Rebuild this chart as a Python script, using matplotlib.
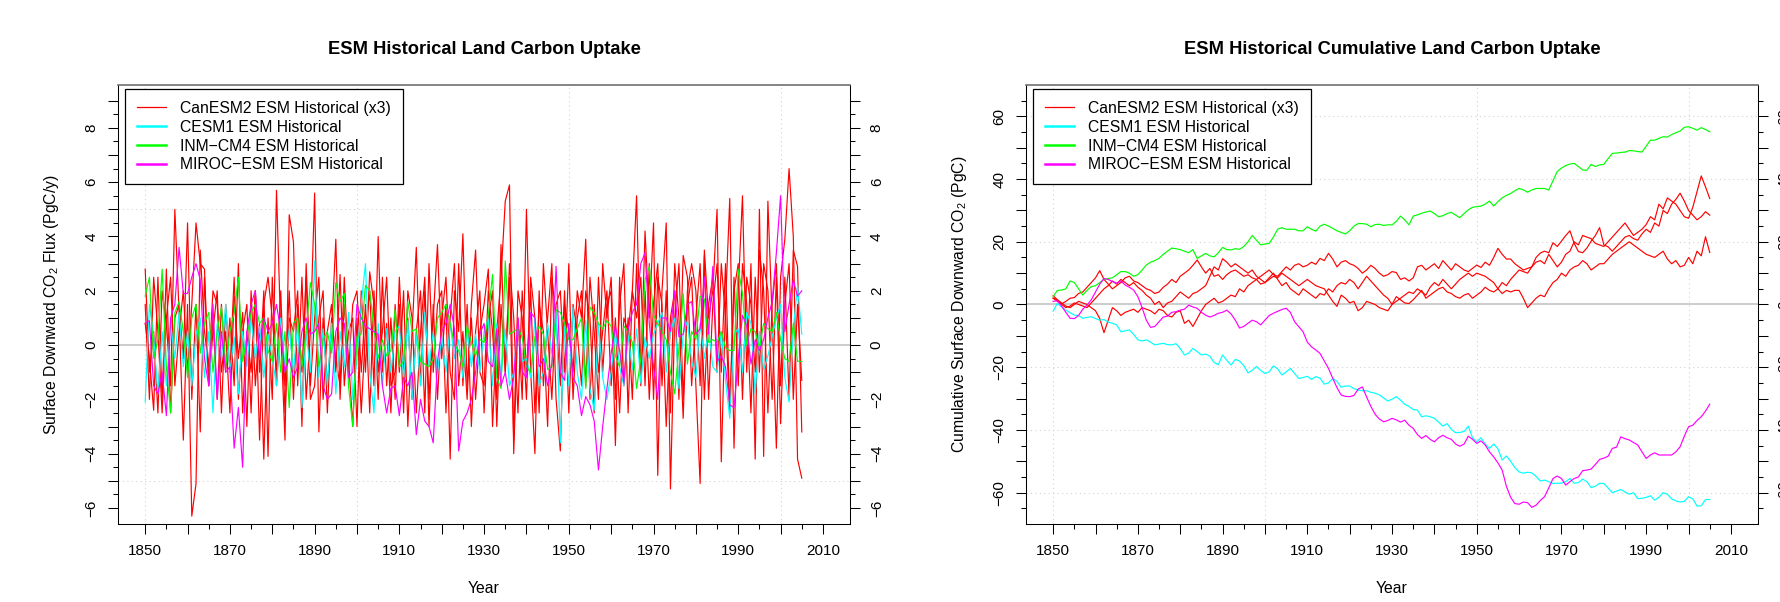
import numpy as np
import matplotlib
matplotlib.use('Agg')
import matplotlib.pyplot as plt
from matplotlib.lines import Line2D

plt.rcParams['font.family'] = ['Liberation Sans', 'DejaVu Sans']
plt.rcParams['mathtext.fontset'] = 'custom'
plt.rcParams['mathtext.rm'] = 'Liberation Sans'
plt.rcParams['mathtext.it'] = 'Liberation Sans:italic'

years = np.arange(1850, 2006)

# ---- annual land carbon flux (PgC/y), left panel ----
can_flux_1 = [2.8, -1.0, 0.5, -2.5, 2.0, 0.8, -1.5, 5.0, 1.2, -3.5,
              1.5, -6.3, -5.1, 3.5, 0.5, -0.8, 2.0, 1.5, -1.0, 0.5,
              -2.5, 1.8, -0.5, 1.2, -3.0, 2.0, -1.5, 0.8, -4.2, 1.0,
              -2.0, 5.7, 0.5, -3.5, 4.8, 3.8, -1.5, 2.5, -2.0, 0.5,
              5.6, -3.2, 1.0, -1.5, 0.5, 3.9, -2.0, 1.5, -0.5, -3.0,
              1.0, -2.5, 0.5, 2.0, -1.5, 4.0, -1.0, 0.8, -2.5, 1.5,
              -1.0, 2.0, -3.0, 0.5, 3.6, -1.5, 2.0, -2.0, 1.0, 3.7,
              -0.5, 1.5, -4.2, 2.0, 0.5, 4.1, -1.5, 1.0, -2.0, 0.5,
              1.5, 2.8, -3.0, 0.5, 2.5, 5.3, 5.9, -4.0, 1.0, -2.0,
              5.0, -1.0, -4.0, 2.0, -1.5, 1.0, 3.0, -2.0, -3.9, 1.5,
              0.5, -1.0, 2.0, 1.0, 3.9, -2.0, 1.5, -1.0, 0.5, 2.0,
              -1.5, 1.0, -2.5, 1.0, 0.5, 2.0, 5.5, -1.0, 4.2, 1.0,
              4.5, -4.8, 2.0, 4.5, -5.3, 1.0, 3.0, -2.0, 1.5, 2.5,
              -1.5, -5.1, 3.5, 1.0, 2.0, 5.0, -4.3, 1.5, 5.4, -3.8,
              2.0, 5.5, -1.0, 3.0, -4.2, 5.0, -4.1, 5.3, 1.0, -3.8,
              2.5, 3.9, 6.5, 4.0, -4.2, -4.9]
can_flux_2 = [1.5, -2.0, 2.5, 0.5, -2.5, 1.0, 2.5, -1.5, 0.5, 2.0,
              -1.0, 1.5, 4.5, 3.0, 2.8, -1.5, 1.0, -2.0, 1.5, -1.0,
              1.0, -1.5, 3.0, -2.5, 0.5, -1.0, 2.0, -3.5, 1.5, 2.5,
              1.0, -1.0, 2.0, -2.5, 1.0, 0.5, 2.0, -3.0, 3.0, -1.5,
              1.0, 2.5, -2.0, 0.5, 1.5, -1.0, 2.6, -1.5, 0.5, 1.0,
              -3.0, 2.0, -1.0, 2.7, 1.5, -2.0, 2.5, -1.5, 1.0, -2.0,
              2.5, -1.0, 1.0, -2.0, 0.5, 2.0, -2.5, 3.0, -1.0, 1.5,
              2.0, -2.5, 1.0, 3.0, -1.5, 0.5, -2.0, 1.5, 3.5, -1.0,
              -1.5, 2.0, 0.5, -2.0, 3.7, -1.0, 2.5, -3.5, 2.0, 1.0,
              -2.0, 2.5, 1.0, -2.5, 3.0, 0.5, -2.0, 1.5, 2.0, -1.0,
              3.0, -2.0, 1.0, 2.0, -1.5, 2.5, 0.5, -2.0, 3.0, 1.0,
              2.5, -2.0, 1.5, 3.0, -2.5, 2.0, 1.0, 2.5, -1.5, 3.0,
              -2.0, 2.5, 1.5, -3.0, 1.0, 2.0, -2.0, 3.3, 2.5, -1.5,
              1.0, 3.0, -2.0, 1.5, 2.5, -1.0, 3.0, 1.0, -2.5, 2.0,
              3.0, -2.0, 2.5, 1.5, -1.0, 3.5, 2.0, -2.5, 1.5, 3.0,
              -1.5, 2.5, -2.0, 3.5, 2.9, -3.2]
can_flux_3 = [0.8, -0.5, -2.4, 2.5, -2.0, 2.8, -2.5, 1.0, 1.5, -0.5,
              4.5, -2.0, 1.5, -3.2, 2.5, -1.5, 0.5, 2.0, -2.5, 1.5,
              -1.0, 2.5, -2.0, 0.5, 1.5, -2.5, 2.0, -1.0, 2.0, -4.1,
              2.5, -1.5, 1.0, -1.5, 2.0, -2.0, 1.5, -1.0, 2.5, -2.0,
              -1.5, 1.0, 2.0, -2.5, 1.0, -0.5, -1.5, 2.5, -1.0, 1.5,
              2.0, -1.0, 1.5, -2.5, 2.0, -1.0, 0.5, 2.5, -1.5, -1.0,
              1.5, -2.5, 2.0, 1.0, -2.5, 0.5, 2.5, -3.0, 1.5, -2.0,
              1.0, 2.5, -1.0, -2.0, 3.0, -1.5, 1.5, -3.0, 0.5, 2.0,
              -2.5, 1.0, 2.0, -3.0, 1.5, -1.0, 3.0, 1.0, -2.5, 2.0,
              -1.0, 2.0, -2.5, 1.5, 0.5, -3.0, 2.5, 1.0, -1.5, 2.0,
              -2.5, 1.5, 0.5, -1.5, 2.0, 1.0, -2.5, 2.5, -1.0, 1.5,
              2.0, -3.7, 2.5, -1.5, 1.0, -2.0, 3.0, -1.5, 2.0, -2.0,
              1.5, 3.0, -1.5, 2.0, -2.5, 3.0, 1.0, -2.7, 2.0, 3.0,
              2.0, -1.5, 3.3, -2.0, 1.5, 3.0, -1.0, 3.0, -2.5, 2.5,
              -1.5, 3.0, 1.5, -2.5, 2.5, -1.0, 3.0, 2.0, -2.0, 2.5,
              -2.9, 1.5, 3.0, -2.0, 1.5, -1.3]
cesm_flux = [-2.1, 1.5, 0.3, -1.8, 0.5, -1.5, 0.8, -0.5, 1.2, -0.8,
             0.5, -1.5, 0.4, 1.0, -1.2, 0.5, -2.5, 0.8, -0.5, 1.5,
             -1.0, 0.3, -1.8, 0.5, -0.8, 1.0, -0.5, 0.7, -1.2, 0.4,
             -0.5, -1.5, 1.0, -0.8, 0.6, -1.0, 0.8, -2.3, 0.5, -1.0,
             3.1, -1.2, 0.6, -1.5, 0.8, -1.8, 0.5, -0.8, 1.2, -2.0,
             -0.5, 1.5, 3.0, -1.0, -2.5, 0.8, -1.5, 0.6, -1.0, 0.5,
             0.7, -1.2, 0.9, -2.0, 0.4, -1.5, 1.2, -0.8, 0.5, -1.0,
             0.3, -1.0, 0.8, -0.5, 0.2, -1.2, 0.6, -0.8, 0.4, -1.0,
             0.5, 1.0, -1.5, 0.8, -1.2, 0.6, -1.5, -1.0, 0.8, -0.6,
             -0.5, -1.2, 1.0, -1.5, -1.0, 0.8, -0.3, 1.2, -3.6, 0.7,
             -1.5, 1.4, -1.0, -2.0, 0.9, -1.6, -2.4, 0.8, -1.2, -2.0,
             -1.0, 0.5, -0.8, -1.5, 0.4, -0.9, 0.6, -1.4, 0.3, -0.5,
             0.4, 0.8, 1.2, -1.0, 0.5, 1.0, -1.6, 0.4, 0.9, -0.6,
             -1.2, 0.8, -0.5, 0.6, -0.8, -1.0, 0.5, -1.3, -2.7, 0.4,
             0.6, -1.0, 1.2, 0.8, -1.8, 0.5, -0.9, -0.4, 0.3, 1.0,
             1.5, -1.2, -2.1, 0.6, 2.2, 0.4]
inm_flux = [1.8, 2.5, -0.5, 0.2, 2.8, -0.8, -2.5, 1.2, 1.6, 0.5,
            -1.2, 1.0, 1.5, -0.3, 0.8, 1.2, -1.0, 0.5, 1.4, -0.8,
            0.5, 1.2, 2.5, -0.6, 0.3, 1.2, 1.5, 0.8, 1.0, -0.2,
            -0.6, 0.8, -1.0, 0.5, -2.3, 0.8, 1.0, -0.8, 0.5, 2.3,
            1.5, -0.8, 0.2, 0.5, -0.3, 2.3, 1.6, 1.9, -1.5, -3.0,
            0.3, 0.4, 2.2, 2.0, 0.6, -0.5, 0.2, -0.4, -0.2, 1.3,
            -0.8, -0.6, 1.6, 0.5, 0.6, -0.6, -0.7, -0.8, -0.5, 1.0,
            1.2, 1.5, 0.8, 0.0, -0.2, -0.8, 0.7, 0.1, -0.4, 0.2,
            0.1, 1.1, 2.6, -1.2, -1.6, 3.1, 0.4, 0.5, 0.6, 0.3,
            -0.8, -1.0, 0.3, 0.7, 0.4, -0.9, -0.8, 1.3, 1.2, 0.8,
            0.2, 0.2, 0.6, 1.0, -1.6, 1.4, 1.2, 0.8, 0.6, 0.9,
            0.7, -0.4, -0.8, 0.7, 0.5, 0.1, -1.6, -0.5, 2.4, 2.9,
            1.1, 0.8, 0.5, 0.2, -1.0, -1.8, -0.1, 1.9, -0.7, 0.5,
            0.2, 1.8, 1.7, 0.1, 0.2, 0.1, 0.5, -0.1, -0.2, -0.2,
            2.8, 1.9, 0.0, 0.6, 0.5, -0.1, 0.8, 0.6, 0.5, 1.2,
            0.2, -0.5, -0.6, 0.8, -0.6, -0.6]
miroc_flux = [0.8, 0.9, -1.5, -1.8, -1.0, -2.6, 1.0, 1.5, 3.6, 1.9,
              1.9, 2.5, 3.0, 2.4, -0.5, -1.5, 1.5, -2.0, 0.5, -1.0,
              -0.8, -3.8, -2.3, -4.5, 0.5, 1.5, 2.0, -0.5, 1.0, 0.5,
              0.8, 1.5, 0.5, -1.0, -0.5, -1.2, -0.8, 0.5, 1.0, 0.4,
              0.5, 0.8, -1.5, -2.0, -1.8, 0.5, 1.0, 0.8, -1.2, -1.0,
              1.5, 1.0, 0.7, 0.6, 0.5, 0.4, -1.5, -2.5, -1.6, -1.5,
              -2.6, -1.2, -1.5, -1.0, -3.3, -2.0, -2.8, -3.0, -3.6, -0.6,
              0.5, 0.8, 1.5, 0.6, -3.9, -2.8, -2.5, -2.0, -1.0, 0.4,
              0.8, -0.6, -0.8, 0.6, -1.5, -1.0, -2.0, -1.2, 1.0, -1.0,
              -1.2, 1.2, 1.0, -0.8, -0.5, -1.5, -0.7, 2.9, -1.0, -1.3,
              0.8, -1.2, -1.5, -2.6, -1.9, -2.2, -2.8, -4.6, -3.0, -1.6,
              -0.3, 0.7, -0.2, -1.4, 0.6, 1.2, 1.5, 3.0, 3.4, 0.8,
              -0.8, -2.0, 1.0, 1.0, 0.5, 2.0, 0.3, 0.4, 1.5, 1.6,
              0.4, 0.6, 2.5, 0.4, 2.9, -0.6, -0.4, -0.8, -2.2, -2.3,
              -0.5, 1.1, 0.7, -0.7, 0.2, -0.2, 0.2, 1.0, 1.6, 3.4,
              5.5, 0.5, 1.5, 2.4, 1.8, 2.0]

# ---- cumulative land carbon uptake (PgC), right panel ----
can_cum_1 = [2.8, 1.5, 0.2, 1.0, 2.0, 2.2, 3.5, 4.0, 5.5, 7.0,
             8.5, 10.8, 8.0, 6.5, 5.0, 6.0, 7.0, 8.5, 9.0, 7.5,
             7.0, 6.0, 5.0, 4.5, 3.5, 4.0, 5.5, 6.5, 8.0, 7.0,
             9.0, 10.0, 11.0, 12.5, 14.2, 12.0, 10.0, 11.5, 9.0, 9.5,
             8.0, 9.5, 10.5, 11.0, 10.0, 9.0, 9.5, 8.5, 8.0, 9.0,
             10.0, 11.0, 9.5, 9.0, 10.5, 12.0, 11.0, 12.5, 13.0, 12.0,
             12.5, 13.5, 12.8, 14.7, 14.0, 16.3, 14.5, 12.0, 13.5, 14.0,
             13.0, 12.5, 11.5, 10.0, 11.0, 12.5, 11.5, 10.0, 9.0, 9.5,
             10.5, 10.2, 8.0, 8.5, 7.5, 8.5, 12.0, 12.5, 11.0, 12.0,
             13.0, 11.5, 14.0, 12.5, 11.0, 13.0, 12.0, 11.0, 10.5, 11.5,
             12.6, 11.8, 13.5, 12.5, 15.0, 17.9, 16.0, 14.5, 14.5, 13.0,
             12.0, 11.0, 11.5, 12.0, 13.5, 14.0, 13.0, 16.0, 14.0, 12.0,
             13.5, 16.0, 17.0, 20.0, 19.0, 22.0, 21.5, 21.0, 19.5, 19.0,
             18.5, 20.0, 21.5, 23.0, 24.5, 26.0, 24.0, 22.0, 23.0, 24.0,
             25.5, 28.0, 27.0, 32.0, 30.5, 34.0, 33.0, 32.0, 30.0, 28.0,
             27.5, 31.0, 36.0, 41.0, 37.5, 33.8]
can_cum_2 = [2.0, 1.0, 0.0, -1.0, -0.5, 0.5, 0.0, -0.5, -1.0, 0.5,
             2.0, 3.5, 5.0, 6.0, 7.5, 6.5, 8.0, 7.0, 6.0, 7.0,
             5.5, 4.5, 3.0, 2.0, 0.0, 1.0, -1.0, 0.5, 1.0, 2.5,
             4.0, 3.0, 2.0, 3.5, 4.0, 5.0, 6.0, 9.0, 12.0, 11.0,
             14.6, 13.5, 12.0, 13.0, 12.0, 11.0, 10.0, 11.0, 9.0, 8.0,
             7.0, 8.5, 10.0, 8.0, 6.0, 7.0, 5.0, 4.0, 3.0, 5.0,
             4.0, 3.0, 2.0, 3.5, 3.0, 5.0, 4.0, 6.0, 7.0, 6.5,
             8.0, 7.0, 5.0, 7.0, 9.0, 7.5, 6.0, 4.5, 3.0, 2.0,
             0.0, 2.5, 1.5, 0.5, 0.3, 1.5, 3.0, 4.5, 2.0, 3.0,
             4.0, 5.0, 5.5, 4.0, 3.5, 2.5, 2.0, 3.0, 3.5, 2.0,
             3.0, 4.0, 5.5, 4.5, 4.0, 5.0, 7.0, 6.0, 8.0, 9.5,
             11.0, 10.5, 10.0, 12.0, 15.0, 16.4, 17.0, 16.5, 19.7, 18.5,
             20.2, 22.0, 23.5, 19.5, 16.9, 16.5, 18.0, 20.2, 22.0, 24.5,
             19.0, 18.4, 17.0, 18.5, 20.0, 21.5, 22.0, 21.0, 20.5, 22.5,
             24.0, 23.0, 26.0, 25.0, 30.0, 29.0, 32.0, 33.5, 35.5, 33.0,
             30.0, 28.5, 27.0, 28.0, 29.6, 28.5]
can_cum_3 = [2.0, 1.5, 0.5, -0.5, -1.0, 0.0, 1.0, 0.5, 0.0, -1.0,
             -2.0, -4.5, -9.0, -5.0, -1.0, -2.0, -3.5, -2.5, -2.0, -1.5,
             -2.5, -1.0, -1.5, -2.0, -3.0, -1.5, -2.0, -3.5, -4.0, -2.5,
             -2.0, -6.0, -5.0, -7.0, -4.5, -2.0, 0.0, 1.0, 2.0, 0.5,
             1.0, 2.0, 3.0, 2.5, 5.0, 4.0, 6.0, 7.0, 8.0, 6.5,
             7.0, 8.0, 9.0, 8.5, 10.0, 9.0, 8.0, 7.0, 6.0, 7.0,
             8.0, 7.0, 6.0, 5.5, 5.0, 3.0, 1.0, -0.6, 3.0, 2.0,
             0.5, 1.0, -2.0, -1.0, 1.0, 0.5, 0.0, -1.0, -1.5, -2.0,
             0.0, 1.0, 2.0, 3.0, 4.0, 3.5, 5.0, 4.0, 3.0, 5.5,
             7.0, 6.0, 8.0, 6.5, 5.0, 6.5, 8.0, 9.0, 10.0, 9.0,
             10.0, 9.5, 9.0, 8.0, 7.0, 5.0, 3.5, 4.5, 4.0, 4.5,
             4.5, 2.0, -1.0, 0.5, 2.0, 3.0, 2.5, 5.0, 7.0, 8.0,
             10.0, 9.0, 11.0, 12.0, 12.5, 14.0, 13.0, 11.0, 12.0, 13.0,
             13.0, 14.5, 16.0, 17.0, 18.0, 19.0, 20.0, 19.0, 18.0, 17.0,
             16.0, 15.5, 15.0, 16.0, 17.0, 14.5, 13.0, 14.0, 12.0, 12.5,
             15.0, 13.0, 17.0, 15.5, 21.6, 16.6]
cesm_cum = [-2.1, 0.4, -0.8, -1.8, -2.6, -3.4, -3.5, -4.4, -4.1, -3.9,
            -4.5, -5.0, -4.8, -5.6, -6.0, -6.5, -8.7, -8.4, -8.1, -9.5,
            -11.3, -11.6, -11.3, -12.0, -12.9, -12.6, -12.4, -12.8, -12.9, -12.5,
            -14.0, -16.1, -15.5, -14.0, -15.0, -16.1, -15.8, -16.5, -18.5, -19.2,
            -16.1, -17.8, -19.3, -17.5, -18.0, -19.5, -21.8, -21.0, -19.8, -21.0,
            -22.0, -21.5, -19.6, -20.5, -22.5, -21.5, -20.4, -22.0, -23.6, -23.3,
            -22.9, -23.9, -23.0, -23.5, -25.4, -25.0, -23.6, -24.5, -26.4, -26.0,
            -26.0, -26.8, -27.3, -27.5, -27.5, -28.0, -28.3, -28.8, -29.8, -30.8,
            -30.2, -29.4, -30.5, -31.8, -32.5, -33.5, -33.7, -35.8, -35.5, -35.8,
            -36.3, -37.5, -38.8, -38.0, -39.8, -40.9, -40.8, -40.5, -38.8, -42.5,
            -43.8, -42.5, -44.5, -45.9, -44.5, -46.0, -49.6, -48.3, -50.0, -52.0,
            -53.4, -53.8, -53.5, -53.7, -54.8, -56.3, -56.0, -56.5, -57.1, -57.0,
            -57.0, -56.5, -55.5, -57.0, -56.8, -55.7, -56.5, -58.4, -58.0, -57.0,
            -57.1, -58.5, -60.0, -59.5, -59.0, -59.8, -60.5, -60.0, -61.9, -61.8,
            -61.5, -61.0, -62.4, -61.5, -60.0, -60.5, -62.0, -62.6, -63.0, -62.8,
            -61.3, -62.0, -64.3, -64.2, -62.2, -62.2]
inm_cum = [2.5, 4.5, 4.6, 5.0, 7.5, 7.0, 5.0, 3.0, 4.5, 5.7,
           6.0, 7.0, 8.0, 8.3, 8.5, 9.5, 10.5, 10.5, 10.0, 9.0,
           9.5, 11.0, 12.6, 13.5, 14.0, 14.7, 16.0, 17.0, 18.0, 17.8,
           17.5, 17.0, 16.5, 17.5, 14.7, 15.5, 16.3, 15.5, 15.2, 16.5,
           18.2, 17.5, 17.4, 17.8, 17.6, 18.5, 20.0, 22.0, 20.5, 19.0,
           19.3, 19.5, 21.5, 24.0, 24.5, 24.0, 24.0, 24.0, 23.5, 23.5,
           24.8, 24.0, 23.4, 25.0, 25.6, 25.0, 24.3, 23.5, 23.0, 22.5,
           23.5, 25.0, 25.8, 25.8, 25.6, 24.8, 25.5, 25.6, 25.2, 25.4,
           25.4, 26.5, 28.2, 27.0, 25.4, 28.2, 28.6, 29.1, 29.5, 29.8,
           29.0, 28.0, 28.3, 29.0, 29.4, 28.5, 27.7, 29.0, 30.2, 31.0,
           31.2, 31.4, 32.0, 33.0, 31.4, 32.8, 34.0, 34.8, 35.4, 36.3,
           37.0, 36.6, 35.8, 36.5, 37.0, 37.0, 37.0, 36.5, 39.5, 42.4,
           43.5, 44.3, 44.8, 45.0, 44.0, 42.9, 42.8, 44.7, 44.0, 44.5,
           44.7, 46.5, 48.2, 48.3, 48.5, 48.6, 49.1, 49.0, 48.8, 48.6,
           50.5, 52.4, 52.4, 53.0, 53.5, 53.4, 54.2, 54.8, 55.3, 56.5,
           56.7, 56.2, 55.6, 56.4, 55.8, 55.1]
miroc_cum = [1.0, 1.2, -0.5, -2.5, -4.4, -4.5, -3.5, -1.5, -0.2, 1.5,
             4.0, 6.5, 8.3, 8.0, 7.3, 6.8, 7.5, 6.2, 5.5, 4.6,
             2.5, -1.0, -5.0, -7.3, -7.0, -5.5, -4.0, -3.7, -2.5, -2.3,
             -1.8, -1.5, -0.2, -0.8, -1.2, -2.5, -3.4, -4.0, -3.5, -2.8,
             -2.5, -1.8, -3.0, -5.0, -7.5, -7.0, -6.0, -5.0, -5.5, -6.5,
             -5.0, -3.5, -2.8, -2.2, -1.6, -1.2, -2.5, -5.5, -7.1, -8.7,
             -12.0, -13.5, -14.5, -15.6, -18.0, -20.4, -23.5, -26.5, -28.9, -29.3,
             -29.4, -29.0, -27.0, -26.3, -29.5, -32.5, -35.0, -36.5, -37.4, -37.0,
             -36.3, -36.8, -37.5, -36.9, -38.5, -39.5, -41.5, -42.7, -41.8, -43.0,
             -43.8, -42.5, -41.7, -42.5, -43.0, -44.5, -45.2, -44.5, -42.0, -43.0,
             -44.3, -43.5, -44.8, -47.0, -48.6, -50.5, -52.8, -58.0, -61.5, -63.5,
             -63.7, -63.0, -63.2, -64.7, -64.0, -62.5, -61.3, -58.5, -55.5, -54.7,
             -55.5, -57.6, -56.5, -55.5, -55.0, -53.0, -52.8, -52.5, -51.0, -49.4,
             -49.0, -48.4, -45.9, -45.5, -42.2, -42.8, -43.2, -44.0, -44.8, -47.0,
             -49.1, -48.0, -47.3, -48.0, -48.0, -48.0, -48.0, -47.0, -45.4, -42.0,
             -39.0, -38.5, -37.0, -35.8, -34.0, -31.8]

labels = ['CanESM2 ESM Historical (x3)', 'CESM1 ESM Historical',
          'INM\u2212CM4 ESM Historical', 'MIROC\u2212ESM ESM Historical']
colors = ['#FF0000', '#00FFFF', '#00FF00', '#FF00FF']

flux_series = [[can_flux_1, can_flux_2, can_flux_3], [cesm_flux], [inm_flux], [miroc_flux]]
cum_series = [[can_cum_1, can_cum_2, can_cum_3], [cesm_cum], [inm_cum], [miroc_cum]]

fig = plt.figure(figsize=(17.81, 6.02), dpi=100)
ax1 = fig.add_axes([0.0663, 0.1296, 0.4110, 0.7292])
ax2 = fig.add_axes([0.5761, 0.1296, 0.4110, 0.7292])


def draw_panel(ax, series, title, ylabel, ylim, ystep, grid_y):
    ax.set_xlim(1843.6, 2016.4)
    ax.set_ylim(*ylim)
    for x in [1850, 1900, 1950, 2000]:
        ax.axvline(x, color='#D3D3D3', lw=0.8, ls=(0, (1, 3)), zorder=0)
    for y in grid_y:
        ax.axhline(y, color='#D3D3D3', lw=0.8, ls=(0, (1, 3)), zorder=0)
    ax.axhline(0, color='#BEBEBE', lw=1.1, zorder=1)
    for group, col in zip(series, colors):
        for s in group:
            assert len(s) == len(years)
            ax.plot(years, s, color=col, lw=0.85, zorder=2)

    xt = np.arange(1850, 2011, 10)
    ax.set_xticks(xt)
    ax.set_xticklabels([str(v) if v % 20 == 10 else '' for v in xt])
    ax.set_xticks(np.arange(1850, 2011, 5), minor=True)

    if ystep == 1:
        lo, hi = -6, 9
        minor = np.arange(-6, 9.01, 0.5)
    else:
        lo, hi = -60, 60
        minor = np.arange(-65, 65.1, 5)
    yt = np.arange(lo, hi + ystep / 2, ystep)
    ax.set_yticks(yt)
    ax.set_yticklabels([('%d' % v).replace('-', '\u2212') if v % (2 * ystep) == 0 else '' for v in yt],
                       rotation=90, va='center')
    ax.set_yticks(minor, minor=True)

    ax.tick_params(which='major', length=7.2, width=0.75, labelsize=11,
                   right=True, labelright=True, top=False)
    ax.tick_params(which='minor', length=3.6, width=0.75, right=True, top=False)
    ax.tick_params(axis='x', pad=7)
    ax.tick_params(axis='y', pad=7)
    for sp in ax.spines.values():
        sp.set_linewidth(0.75)
    ax.spines['top'].set_color('#707070')
    ax.spines['top'].set_linewidth(1.2)

    ax.set_title(title, fontsize=13.2, fontweight='bold', pad=22.6)
    ax.set_xlabel('Year', fontsize=11.3)
    ax.xaxis.label.set_va('center')
    ax.xaxis.set_label_coords(0.5, -0.148)
    ax.set_ylabel(ylabel, fontsize=11.3)
    ax.yaxis.label.set_ha('center')
    ax.yaxis.label.set_va('center')
    ax.yaxis.set_label_coords(-0.091, 0.5)

    handles = [Line2D([], [], color=c, lw=(0.9 if i == 0 else 1.8)) for i, c in enumerate(colors)]
    leg = ax.legend(handles, labels, loc='upper left', bbox_to_anchor=(0.0096, 0.991),
                    borderaxespad=0, fontsize=11.3, fancybox=False, framealpha=1,
                    edgecolor='black', handlelength=1.85, handletextpad=0.9,
                    labelspacing=0.25, borderpad=0.75)
    leg.get_frame().set_linewidth(0.9)
    leg.set_zorder(5)


draw_panel(ax1, flux_series, 'ESM Historical Land Carbon Uptake',
           r'Surface Downward CO$_2$ Flux (PgC/y)', (-6.59, 9.58), 1, [-5, 5])
draw_panel(ax2, cum_series, 'ESM Historical Cumulative Land Carbon Uptake',
           r'Cumulative Surface Downward CO$_2$ (PgC)', (-70, 70), 10, [-60, -40, -20, 20, 40, 60])

fig.savefig('out.png', dpi=100, facecolor='white')
